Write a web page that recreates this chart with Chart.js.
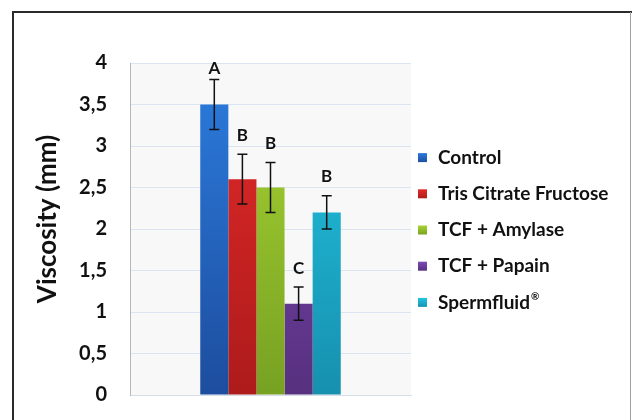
<!DOCTYPE html>
<html>
<head>
<meta charset="utf-8">
<script src="https://cdn.jsdelivr.net/npm/chart.js@4.4.0/dist/chart.umd.min.js"></script>
<style>
  body { margin: 0; background: #fff; }
  #wrap { width: 632px; height: 420px; position: relative; }
</style>
</head>
<body>
<div id="wrap"><canvas id="myChart" width="632" height="420"></canvas></div>
<script>
// data
var groups = ['Control', 'Tris Citrate Fructose', 'TCF + Amylase', 'TCF + Papain', 'Spermfluid®'];
var means = [3.5, 2.6, 2.5, 1.1, 2.2];
var errors = [0.3, 0.3, 0.3, 0.2, 0.2];
var letters = ['A', 'B', 'B', 'C', 'B'];
var yTicks = [0, 0.5, 1, 1.5, 2, 2.5, 3, 3.5, 4];
var yTitle = 'Viscosity (mm)';

// top / bottom colours of each bar gradient
var topColors = ['#2c7ddf', '#e52a2a', '#aad634', '#7f4cb8', '#23c8e6'];
var bottomColors = ['#1d4d9e', '#ad1b1b', '#77a122', '#57307f', '#1690ae'];

var FONT = "Lato, 'Open Sans', sans-serif";

function barGradient(i) {
    return function(context) {
        var chart = context.chart;
        var area = chart.chartArea;
        if (!area) return topColors[i];
        var g = chart.ctx.createLinearGradient(0, area.top, 0, area.bottom);
        g.addColorStop(0, topColors[i]);
        g.addColorStop(1, bottomColors[i]);
        return g;
    };
}

var datasets = groups.map(function(name, i) {
    return {
        label: name,
        data: [means[i]],
        backgroundColor: barGradient(i),
        borderWidth: 0
    };
});

// frame + plot background + axis title
var framePlugin = {
    id: 'frame',
    beforeDraw: function(chart) {
        var ctx = chart.ctx, a = chart.chartArea;
        ctx.save();
        ctx.fillStyle = '#f8f8f8';
        ctx.fillRect(a.left, a.top, a.right - a.left, a.bottom - a.top);
        ctx.restore();
    },
    afterDraw: function(chart) {
        var ctx = chart.ctx;
        ctx.save();
        ctx.strokeStyle = '#2a2a2a';
        ctx.lineWidth = 2;
        ctx.beginPath();
        ctx.moveTo(13, 420);
        ctx.lineTo(13, 12);
        ctx.lineTo(632, 12);
        ctx.stroke();
        ctx.strokeStyle = '#a0a0a0';
        ctx.lineWidth = 1;
        ctx.beginPath();
        ctx.moveTo(630.5, 12);
        ctx.lineTo(630.5, 420);
        ctx.stroke();
        // y axis title, a bit above the middle like the original
        ctx.translate(48, 219);
        ctx.rotate(-Math.PI / 2);
        ctx.fillStyle = '#111';
        ctx.font = 'bold 26px ' + FONT;
        ctx.textAlign = 'center';
        ctx.textBaseline = 'middle';
        ctx.fillText(yTitle, 0, 0);
        ctx.restore();
    }
};

// error bars and letters
var errorPlugin = {
    id: 'errorBars',
    afterDatasetsDraw: function(chart) {
        var ctx = chart.ctx, y = chart.scales.y, a = chart.chartArea;
        ctx.save();
        ctx.strokeStyle = '#111';
        ctx.lineWidth = 1.5;
        ctx.fillStyle = '#111';
        ctx.font = 'bold 17px ' + FONT;
        ctx.textAlign = 'center';
        ctx.textBaseline = 'middle';
        chart.data.datasets.forEach(function(ds, i) {
            var bar = chart.getDatasetMeta(i).data[0];
            var x = bar.x;
            var hi = y.getPixelForValue(means[i] + errors[i]);
            var lo = y.getPixelForValue(means[i] - errors[i]);
            ctx.beginPath();
            ctx.moveTo(x, hi); ctx.lineTo(x, lo);
            ctx.moveTo(x - 5, hi); ctx.lineTo(x + 5, hi);
            ctx.moveTo(x - 5, lo); ctx.lineTo(x + 5, lo);
            ctx.stroke();
            var ly = Math.max(hi - 19, a.top + 6);
            ctx.fillText(letters[i], x, ly);
        });
        ctx.restore();
    }
};

// legend on the right
var legendPlugin = {
    id: 'sideLegend',
    afterDraw: function(chart) {
        var ctx = chart.ctx, a = chart.chartArea;
        var step = 36.2;
        var mid = (a.top + a.bottom) / 2 + 1;
        ctx.save();
        ctx.textBaseline = 'middle';
        ctx.textAlign = 'left';
        groups.forEach(function(name, i) {
            var cy = mid + (i - 2) * step;
            var g = ctx.createLinearGradient(0, cy - 5, 0, cy + 5);
            g.addColorStop(0, topColors[i]);
            g.addColorStop(1, bottomColors[i]);
            ctx.fillStyle = g;
            ctx.fillRect(418, cy - 4.5, 9, 9);
            ctx.fillStyle = '#111';
            var txt = name, sup = '';
            if (name.slice(-1) === '®') { txt = name.slice(0, -1); sup = '®'; }
            ctx.font = 'bold 19px ' + FONT;
            ctx.fillText(txt, 438, cy);
            if (sup) {
                var w = ctx.measureText(txt).width;
                ctx.font = 'bold 10px ' + FONT;
                ctx.fillText(sup, 438 + w + 1, cy - 6);
            }
        });
        ctx.restore();
    }
};

var config = {
    type: 'bar',
    data: {
        labels: [''],
        datasets: datasets
    },
    options: {
        responsive: false,
        animation: false,
        layout: { padding: { top: 63, right: 221, bottom: 25, left: 0 } },
        datasets: { bar: { categoryPercentage: 0.5, barPercentage: 1 } },
        plugins: {
            legend: { display: false },
            tooltip: { enabled: false }
        },
        scales: {
            x: {
                grid: { display: false },
                border: { display: true, color: '#d5dde8' },
                ticks: { display: false },
                afterFit: function(scale) {
                    scale.height = 0;
                    scale.paddingLeft = 0; scale.paddingRight = 0;
                }
            },
            y: {
                min: 0,
                max: 4,
                afterBuildTicks: function(scale) {
                    scale.ticks = yTicks.map(function(v) { return { value: v }; });
                },
                afterFit: function(scale) {
                    scale.width = 130;
                    scale.paddingTop = 0; scale.paddingBottom = 0;
                },
                grid: { color: '#dbe5f1', lineWidth: 1, drawTicks: false },
                border: { display: true, color: '#b8b8b8' },
                ticks: {
                    padding: 23,
                    color: '#111',
                    font: { family: FONT, size: 20, weight: 'bold' },
                    callback: function(v) { return String(v).replace('.', ','); }
                },
                title: { display: false }
            }
        }
    },
    plugins: [framePlugin, errorPlugin, legendPlugin]
};

var chart = new Chart(document.getElementById('myChart').getContext('2d'), config);
</script>
</body>
</html>
